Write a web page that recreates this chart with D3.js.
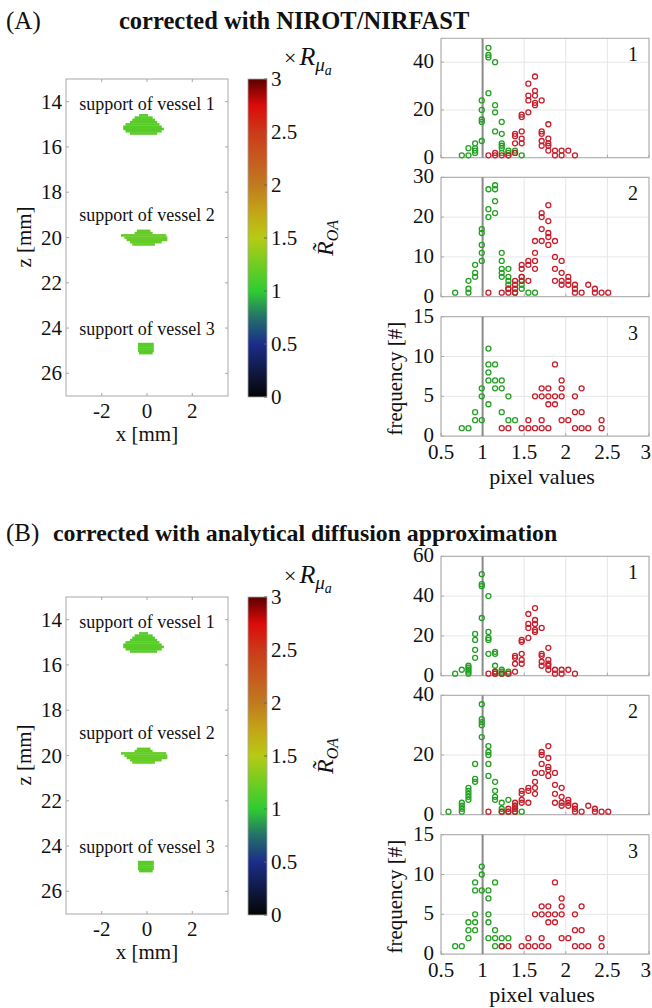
<!DOCTYPE html>
<html><head><meta charset="utf-8">
<script src="https://cdn.jsdelivr.net/npm/d3@7"></script>
<style>
html,body{margin:0;padding:0;background:#fff;}
text{font-family:"Liberation Serif","Times New Roman",serif;fill:#111;}
</style></head>
<body>
<svg id="chart" width="652" height="1008"></svg>
<script>
// ---------------- data ----------------
const panelLetters = ["(A)", "(B)"];
const panelTitles = ["corrected with NIROT/NIRFAST", "corrected with analytical diffusion approximation"];
const imgXTicks = [-2, 0, 2];
const imgZTicks = [14, 16, 18, 20, 22, 24, 26];
const imgXDomain = [-3.58, 3.58];
const imgZDomain = [13, 27];
const vesselLabels = ["support of vessel 1", "support of vessel 2", "support of vessel 3"];
const vesselLabelZ = [14.1, 19.0, 24.05];
// vessel support rows: [z, xStart, xEnd] in mm (pixel pitch 0.1 mm)
const vessel1Rows = [[14.6,-0.3,0.0],[14.7,-0.5,0.2],[14.8,-0.6,0.3],[14.9,-0.7,0.4],[15.0,-0.9,0.5],[15.1,-1.0,0.6],[15.2,-1.0,0.7],[15.3,-0.9,0.6],[15.4,-0.7,0.4]];
const vessel2Rows = [[19.7,-0.4,0.1],[19.8,-0.5,0.2],[19.9,-1.1,0.8],[20.0,-0.95,0.85],[20.1,-0.85,0.85],[20.2,-0.7,0.6],[20.3,-0.6,0.3]];
const vessel3Rows = [[24.7,-0.35,0.25],[24.8,-0.35,0.25],[24.9,-0.35,0.25],[25.0,-0.35,0.25],[25.1,-0.3,0.2]];
const vesselValues = [[1.15, 1.2, 1.15], [1.15, 1.2, 1.15]];
const cbTicks = [0, 0.5, 1, 1.5, 2, 2.5, 3];
const cbStops = [0, 0.25, 0.5, 0.75, 1, 1.25, 1.5, 1.75, 2, 2.25, 2.5, 2.75, 3];
const cbColors = ["#050505", "#101a45", "#1b2d8a", "#24706a", "#2fcc32", "#72cc22", "#b6cb14", "#c4a416", "#c07a20", "#c65a1e", "#cb3a18", "#dc0a0a", "#5c0000"];

const histXTicks = [0.5, 1, 1.5, 2, 2.5, 3];
const histXTickLabels = ["0.5", "1", "1.5", "2", "2.5", "3"];
const histYMax = [[50, 30, 15], [60, 40, 15]];
const histYTicks = [[[0, 20, 40], [0, 10, 20, 30], [0, 5, 10, 15]], [[0, 20, 40, 60], [0, 20, 40], [0, 5, 10, 15]]];
const histNumbers = ["1", "2", "3"];

// [pixel value, frequency]
const greenA1 = [[0.75,1],[0.83,1],[0.83,4],[0.91,6],[0.91,4],[0.91,3],[0.91,2],[0.99,7],[0.99,15],[0.99,16],[0.99,20],[0.99,24],[1.07,27],[1.07,42],[1.07,43],[1.07,46],[1.15,40],[1.15,22],[1.15,19],[1.15,11],[1.23,15],[1.23,10],[1.23,6],[1.23,5],[1.23,4],[1.23,2],[1.31,3],[1.31,2],[1.31,1],[1.39,3],[1.39,2],[1.47,1]];
const greenA2 = [[0.67,1],[0.83,1],[0.83,2],[0.83,4],[0.91,8],[0.91,6],[0.91,5],[0.99,9],[0.99,11],[0.99,13],[0.99,16],[0.99,17],[1.07,20],[1.07,22],[1.07,27],[1.15,28],[1.15,27],[1.15,24],[1.15,21],[1.23,11],[1.23,9],[1.23,7],[1.23,6],[1.23,5],[1.31,7],[1.31,5],[1.31,4],[1.31,3],[1.31,2],[1.39,1],[1.47,5],[1.47,4],[1.47,3],[1.47,2],[1.55,1],[1.63,1]];
const greenA3 = [[0.75,1],[0.83,1],[0.91,3],[0.91,2],[0.99,6],[0.99,5],[0.99,2],[1.07,11],[1.07,9],[1.07,8],[1.07,7],[1.07,4],[1.15,9],[1.15,7],[1.15,6],[1.23,7],[1.23,6],[1.23,3],[1.31,5],[1.31,2],[1.39,2]];
const greenB1 = [[0.67,1],[0.75,3],[0.83,5],[0.83,4],[0.83,3],[0.83,2],[0.83,1],[0.91,21],[0.91,18],[0.91,13],[0.91,9],[0.99,51],[0.99,46],[0.99,45],[0.99,29],[1.07,40],[1.07,22],[1.07,19],[1.07,18],[1.07,11],[1.15,12],[1.15,11],[1.15,5],[1.15,2],[1.15,1],[1.23,3],[1.23,2],[1.23,1],[1.31,2],[1.31,1]];
const greenB2 = [[0.59,1],[0.75,4],[0.75,3],[0.75,2],[0.75,1],[0.83,9],[0.83,8],[0.83,7],[0.83,6],[0.83,5],[0.91,17],[0.91,12],[0.91,11],[0.99,37],[0.99,32],[0.99,31],[0.99,30],[0.99,26],[1.07,23],[1.07,21],[1.07,20],[1.07,17],[1.07,13],[1.15,11],[1.15,8],[1.15,6],[1.15,5],[1.23,4],[1.23,2],[1.23,1],[1.31,5],[1.31,1],[1.39,3],[1.39,2],[1.39,1],[1.47,1]];
const greenB3 = [[0.67,1],[0.75,1],[0.83,2],[0.83,3],[0.83,4],[0.91,9],[0.91,8],[0.91,5],[0.91,4],[0.91,3],[0.99,11],[0.99,10],[0.99,8],[1.07,8],[1.07,7],[1.07,5],[1.07,4],[1.07,2],[1.15,9],[1.15,3],[1.15,2],[1.15,1],[1.23,2],[1.23,1],[1.31,2]];
const red1 = [[1.07,1],[1.15,2],[1.15,1],[1.23,1],[1.31,1],[1.39,10],[1.39,9],[1.39,6],[1.39,2],[1.47,18],[1.47,17],[1.47,11],[1.47,8],[1.47,6],[1.55,31],[1.55,26],[1.55,24],[1.55,19],[1.63,34],[1.63,28],[1.63,26],[1.63,23],[1.63,22],[1.71,24],[1.71,11],[1.71,10],[1.71,7],[1.71,5],[1.79,14],[1.79,8],[1.79,6],[1.79,5],[1.79,3],[1.87,3],[1.87,1],[1.95,3],[1.95,1],[2.03,3],[2.11,1]];
const red2 = [[1.07,1],[1.23,1],[1.31,2],[1.31,1],[1.39,4],[1.39,3],[1.39,2],[1.39,1],[1.47,8],[1.47,7],[1.47,5],[1.47,4],[1.55,9],[1.55,8],[1.55,4],[1.63,14],[1.63,11],[1.63,9],[1.63,7],[1.71,21],[1.71,20],[1.71,17],[1.71,14],[1.79,23],[1.79,19],[1.79,16],[1.79,15],[1.79,13],[1.87,14],[1.87,10],[1.87,7],[1.87,4],[1.95,9],[1.95,6],[1.95,4],[1.95,3],[2.03,5],[2.03,4],[2.03,3],[2.11,3],[2.11,2],[2.11,1],[2.19,1],[2.27,3],[2.35,2],[2.35,1],[2.43,1],[2.51,1]];
const red3 = [[1.23,1],[1.31,1],[1.47,1],[1.55,1],[1.55,2],[1.63,1],[1.63,5],[1.71,1],[1.71,2],[1.71,5],[1.71,6],[1.79,1],[1.79,4],[1.79,5],[1.79,6],[1.87,9],[1.87,5],[1.87,4],[1.95,7],[1.95,6],[1.95,5],[1.95,2],[2.03,2],[2.11,5],[2.11,3],[2.11,1],[2.19,6],[2.19,3],[2.19,1],[2.27,1],[2.43,2],[2.43,1]];
const greenSeries = [[greenA1, greenA2, greenA3], [greenB1, greenB2, greenB3]];
const redSeries = [[red1, red2, red3], [red1, red2, red3]];
const referenceValue = 1;

// ---------------- drawing ----------------
const svg = d3.select("#chart");
const AX = "#a8a8a8", GRID = "#e6e6e6";
const GREEN = "#23a022", RED = "#c81e2c";
const FS = "21px";
const cmap = d3.scaleLinear().domain(cbStops).range(cbColors).clamp(true);

const defs = svg.append("defs");
const grad = defs.append("linearGradient").attr("id", "cbgrad").attr("x1", 0).attr("y1", 1).attr("x2", 0).attr("y2", 0);
d3.range(0, 3.0001, 0.05).forEach(v => grad.append("stop").attr("offset", v / 3).attr("stop-color", cmap(v)));

const panelOffsets = [0, 518];
const titleX = [[6, 119], [6, 53]];
const titleY = [29, 23];
const titleSize = ["24.5px", "23.8px"];
const vesselRowsAll = [vessel1Rows, vessel2Rows, vessel3Rows];

panelOffsets.forEach((off, p) => {
  const g = svg.append("g").attr("transform", `translate(0,${off})`);
  g.append("text").attr("x", titleX[p][0]).attr("y", titleY[p]).style("font-size", "25px").text(panelLetters[p]);
  g.append("text").attr("x", titleX[p][1]).attr("y", titleY[p]).style("font-size", titleSize[p]).style("font-weight", "bold").text(panelTitles[p]);

  // ---- image axes ----
  const ix = d3.scaleLinear().domain(imgXDomain).range([66, 228]);
  const iz = d3.scaleLinear().domain(imgZDomain).range([79, 396]);
  const ig = g.append("g");
  ig.append("rect").attr("x", 66).attr("y", 79).attr("width", 162).attr("height", 317).attr("fill", "#fff");
  vesselRowsAll.forEach((rows, vi) => {
    ig.append("g").selectAll("rect").data(rows).join("rect")
      .attr("x", d => ix(d[1] - 0.05)).attr("width", d => ix(d[2] + 0.05) - ix(d[1] - 0.05))
      .attr("y", d => iz(d[0] - 0.05)).attr("height", d => iz(d[0] + 0.05) - iz(d[0] - 0.05) + 0.3)
      .attr("fill", cmap(vesselValues[p][vi]));
    ig.append("text").attr("x", ix(0)).attr("y", iz(vesselLabelZ[vi]) + 6).attr("text-anchor", "middle")
      .style("font-size", "18px").text(vesselLabels[vi]);
  });
  ig.append("rect").attr("x", 66).attr("y", 79).attr("width", 162).attr("height", 317)
    .attr("fill", "none").attr("stroke", AX).attr("stroke-width", 1);
  imgZTicks.forEach(t => {
    ig.append("line").attr("x1", 66).attr("x2", 69).attr("y1", iz(t)).attr("y2", iz(t)).attr("stroke", AX);
    ig.append("line").attr("x1", 228).attr("x2", 225).attr("y1", iz(t)).attr("y2", iz(t)).attr("stroke", AX);
    ig.append("text").attr("x", 62).attr("y", iz(t) + 7).attr("text-anchor", "end").style("font-size", FS).text(t);
  });
  imgXTicks.forEach(t => {
    ig.append("line").attr("x1", ix(t)).attr("x2", ix(t)).attr("y1", 396).attr("y2", 393).attr("stroke", AX);
    ig.append("line").attr("x1", ix(t)).attr("x2", ix(t)).attr("y1", 79).attr("y2", 82).attr("stroke", AX);
    ig.append("text").attr("x", ix(t)).attr("y", 418).attr("text-anchor", "middle").style("font-size", FS).text(t);
  });
  ig.append("text").attr("x", 147).attr("y", 441).attr("text-anchor", "middle").style("font-size", FS).text("x [mm]");
  ig.append("text").attr("transform", "translate(31,237) rotate(-90)").attr("text-anchor", "middle").style("font-size", FS).text("z [mm]");

  // ---- colorbar ----
  const cy = d3.scaleLinear().domain([0, 3]).range([397, 79]);
  const cg = g.append("g");
  cg.append("rect").attr("x", 248).attr("y", 79).attr("width", 19).attr("height", 318)
    .attr("fill", "url(#cbgrad)").attr("stroke", AX).attr("stroke-width", 0.8);
  cbTicks.forEach(t => {
    cg.append("line").attr("x1", 267).attr("x2", 264).attr("y1", cy(t)).attr("y2", cy(t)).attr("stroke", "#666");
    cg.append("text").attr("x", 271).attr("y", cy(t) + 7).style("font-size", FS).text(t);
  });
  const lab = cg.append("text").attr("x", 284).attr("y", 65).style("font-size", "26px");
  lab.append("tspan").style("font-size", "22px").text("×");
  lab.append("tspan").attr("dx", 3).style("font-style", "italic").text("R");
  lab.append("tspan").attr("dy", 6).style("font-style", "italic").style("font-size", "19px").text("μ");
  lab.append("tspan").attr("dy", 4).style("font-style", "italic").style("font-size", "14px").text("a");
  const rl = cg.append("text").attr("transform", "translate(333,238) rotate(-90)").attr("text-anchor", "middle").style("font-size", "24px");
  rl.append("tspan").style("font-style", "italic").text("R\u0303");
  rl.append("tspan").attr("dy", 5).style("font-style", "italic").style("font-size", "16px").text("OA");

  // ---- histograms ----
  const hTops = [38.3, 177.3, 316.7], hH = 119.4;
  const hx = d3.scaleLinear().domain([0.5, 3]).range([441, 649]);
  hTops.forEach((top, k) => {
    const hy = d3.scaleLinear().domain([0, histYMax[p][k]]).range([top + hH, top]);
    const hg = g.append("g");
    hg.append("rect").attr("x", 441).attr("y", top).attr("width", 208).attr("height", hH).attr("fill", "#fff");
    histXTicks.forEach(t => hg.append("line").attr("x1", hx(t)).attr("x2", hx(t)).attr("y1", top).attr("y2", top + hH).attr("stroke", GRID));
    histYTicks[p][k].forEach(t => hg.append("line").attr("x1", 441).attr("x2", 649).attr("y1", hy(t)).attr("y2", hy(t)).attr("stroke", GRID));
    hg.append("rect").attr("x", 441).attr("y", top).attr("width", 208).attr("height", hH).attr("fill", "none").attr("stroke", AX);
    histYTicks[p][k].forEach(t => {
      hg.append("line").attr("x1", 441).attr("x2", 444).attr("y1", hy(t)).attr("y2", hy(t)).attr("stroke", AX);
      hg.append("text").attr("x", 434).attr("y", hy(t) + 6).attr("text-anchor", "end").style("font-size", FS).text(t);
    });
    histXTicks.forEach(t => hg.append("line").attr("x1", hx(t)).attr("x2", hx(t)).attr("y1", top + hH).attr("y2", top + hH - 3).attr("stroke", AX));
    hg.append("line").attr("x1", hx(referenceValue)).attr("x2", hx(referenceValue)).attr("y1", top).attr("y2", top + hH)
      .attr("stroke", "#8a8a8a").attr("stroke-width", 2);
    hg.append("g").selectAll("circle").data(greenSeries[p][k]).join("circle")
      .attr("cx", d => hx(d[0])).attr("cy", d => hy(d[1])).attr("r", 2.5)
      .attr("fill", "none").attr("stroke", GREEN).attr("stroke-width", 1.3);
    hg.append("g").selectAll("circle").data(redSeries[p][k]).join("circle")
      .attr("cx", d => hx(d[0])).attr("cy", d => hy(d[1])).attr("r", 2.5)
      .attr("fill", "none").attr("stroke", RED).attr("stroke-width", 1.3);
    hg.append("text").attr("x", 633).attr("y", top + 23).attr("text-anchor", "middle").style("font-size", "20px").text(histNumbers[k]);
    if (k === 2) {
      histXTicks.forEach((t, i) => {
        const last = i === histXTicks.length - 1;
        hg.append("text").attr("x", last ? 651 : hx(t)).attr("y", top + hH + 23)
          .attr("text-anchor", last ? "end" : "middle").style("font-size", FS).text(histXTickLabels[i]);
      });
      hg.append("text").attr("x", 542).attr("y", top + hH + 48).attr("text-anchor", "middle").style("font-size", "22px").text("pixel values");
      hg.append("text").attr("transform", `translate(402,${top + 62}) rotate(-90)`).attr("text-anchor", "middle").style("font-size", FS).text("frequency [#]");
    }
  });
});
</script>
</body></html>
